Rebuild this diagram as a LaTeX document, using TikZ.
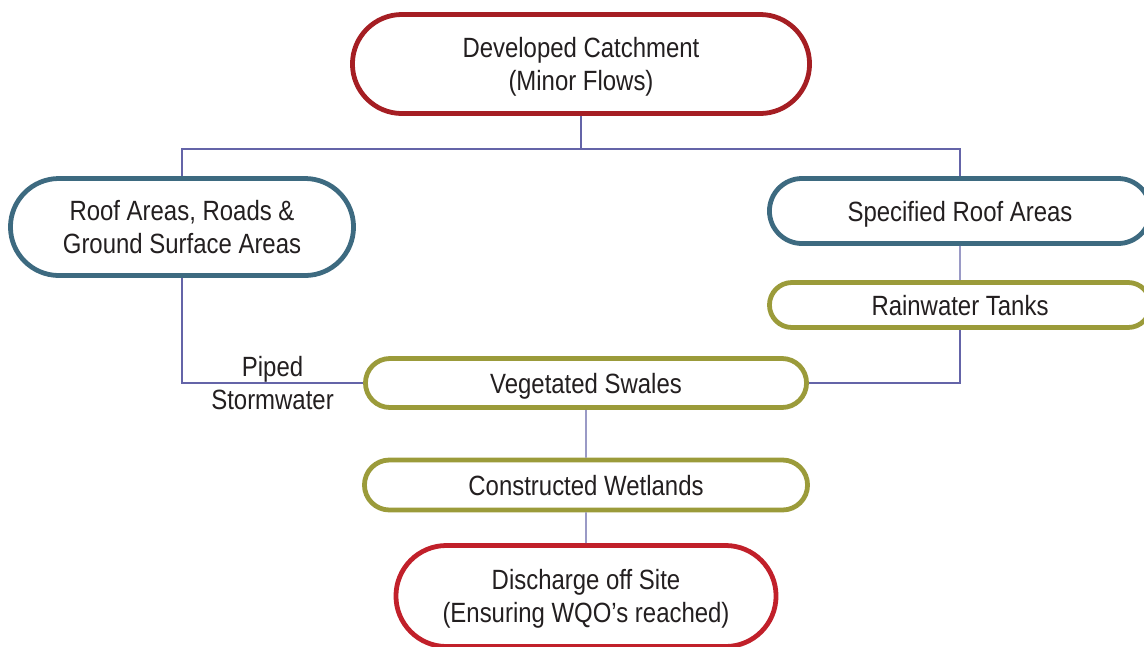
\documentclass[tikz,border=0pt]{standalone}
\usepackage{fontspec}
\setmainfont{Liberation Sans}[FakeStretch=0.86]
\usetikzlibrary{shapes.misc}
\definecolor{catchred}{HTML}{A51E23}
\definecolor{outred}{HTML}{C1202A}
\definecolor{areablue}{HTML}{3D6A80}
\definecolor{treatolive}{HTML}{9B9B3A}
\definecolor{pipeline}{HTML}{6464A8}
\definecolor{labelgrey}{HTML}{231F20}

\begin{document}
\begin{tikzpicture}[
  x=0.025cm, y=-0.025cm,
  pill/.style={rounded rectangle, draw, line width=3.4pt, fill=white,
               inner sep=0pt, align=center, text=labelgrey, text depth=0pt,
               font=\fontsize{19.8}{23.4}\selectfont},
  redpill/.style={pill, draw=catchred},
  outpill/.style={pill, draw=outred},
  bluepill/.style={pill, draw=areablue},
  olivepill/.style={pill, draw=treatolive},
  conn/.style={draw=pipeline, line width=1pt}
]
\useasboundingbox (0,0) rectangle (1144,646);
\clip (0,0) rectangle (1144,646);
% flow elements
\node[redpill, minimum width=11.425cm, minimum height=2.475cm] (catch) at (581,64)
  {Developed Catchment\\(Minor Flows)};
\node[bluepill, minimum width=8.575cm, minimum height=2.425cm] (roof) at (182,227)
  {Roof Areas, Roads \&\\Ground Surface Areas};
\node[bluepill, minimum width=9.525cm, minimum height=1.625cm] (spec) at (960,211)
  {Specified Roof Areas};
\node[olivepill, minimum width=9.525cm, minimum height=1.125cm] (tanks) at (960,305)
  {Rainwater Tanks};
\node[olivepill, minimum width=11.025cm, minimum height=1.225cm] (swales) at (586,383)
  {Vegetated Swales};
\node[olivepill, minimum width=11.075cm, minimum height=1.25cm] (wetlands) at (586,485)
  {Constructed Wetlands};
\node[outpill, minimum width=9.5cm, minimum height=2.525cm] (discharge) at (586,596)
  {Discharge off Site\\(Ensuring WQO’s reached)};
% connectors
\draw[conn] (catch.south) -- ++(0,33) coordinate (split);
\draw[conn] (roof.north) |- (split) -| (spec.north);
\draw[conn] (spec) -- (tanks);
\draw[conn] (tanks.south) |- (swales.east);
\draw[conn] (roof.south) |- node[pos=0.75, align=center, text=labelgrey,
  text depth=0pt, font=\fontsize{19.8}{24}\selectfont] (piped)
  {Piped\\Stormwater} (swales.west);
\draw[conn] (swales) -- (wetlands);
\draw[conn] (wetlands) -- (discharge);
\end{tikzpicture}
\end{document}
